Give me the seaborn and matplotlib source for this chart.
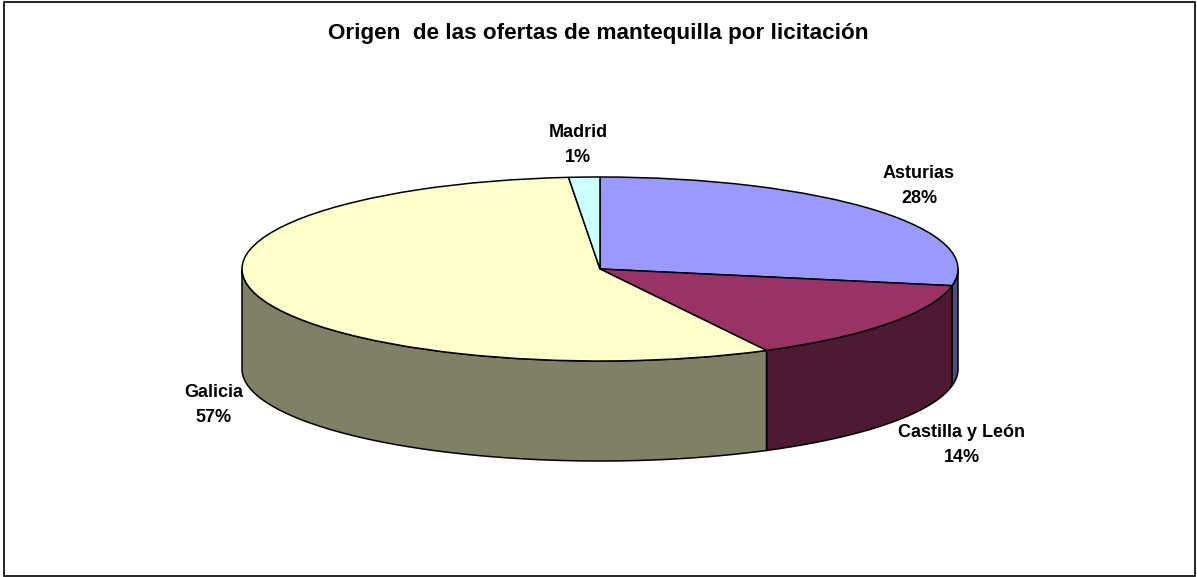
import numpy as np
import matplotlib
matplotlib.use('Agg')
import matplotlib.pyplot as plt
import seaborn as sns

regiones = ['Asturias', 'Castilla y León', 'Galicia', 'Madrid']
valores = [27.9, 14.4, 56.3, 1.4]
etiquetas = ['28%', '14%', '57%', '1%']
colores = ['#9999FF', '#993366', '#FFFFCC', '#CCFFFF']
colores_lado = ['#4D4D80', '#4D1933', '#808066', '#668080']
titulo = 'Origen  de las ofertas de mantequilla por licitación'

# label centres in pixels of the reference
pos_etiquetas = [(919, 186), (962, 445), (214, 405), (578, 145)]

W, H = 1197, 577
cx, cy = 600, 269
rx, ry = 358, 92
prof = 100 / ry

sns.set_style('white')
plt.rcParams['font.family'] = ['Liberation Sans', 'DejaVu Sans']

fig = plt.figure(figsize=(W / 100, H / 100), dpi=100)
ax = fig.add_axes([0, 0, 1, 1])

wedges, _ = ax.pie(valores, colors=colores, startangle=90, counterclock=False,
                   wedgeprops={'edgecolor': 'black', 'linewidth': 1.1, 'zorder': 5})
ax.set_aspect('auto')
ax.set_xlim(-cx / rx, (W - cx) / rx)
ax.set_ylim((cy - H) / ry, cy / ry)
ax.axis('off')

# side wall of the tilted pie, only the front half shows
for w, c in zip(wedges, colores_lado):
    t = np.radians(np.linspace(w.theta1, w.theta2, 400))
    t = t[np.sin(t) <= 0]
    if len(t) < 2:
        continue
    xs = np.cos(t)
    ys = np.sin(t)
    ax.fill(np.r_[xs, xs[::-1]], np.r_[ys, ys[::-1] - prof], facecolor=c,
            edgecolor='black', linewidth=1.1, zorder=2)

for nom, et, p in zip(regiones, etiquetas, pos_etiquetas):
    fig.text(p[0] / W, 1 - p[1] / H, nom + '\n' + et, ha='center', va='center',
             fontsize=13, fontweight='bold', linespacing=1.6, color='black')

fig.text(598.5 / W, 1 - 33 / H, titulo, ha='center', va='center',
         fontsize=16.2, fontweight='bold', color='black')

# chart frame
fig.add_artist(plt.Rectangle((4 / W, 1 / H), (W - 6) / W, (H - 3) / H, fill=False,
                             edgecolor='black', linewidth=1.2,
                             transform=fig.transFigure))

fig.savefig('out.png', dpi=100, facecolor='white')
